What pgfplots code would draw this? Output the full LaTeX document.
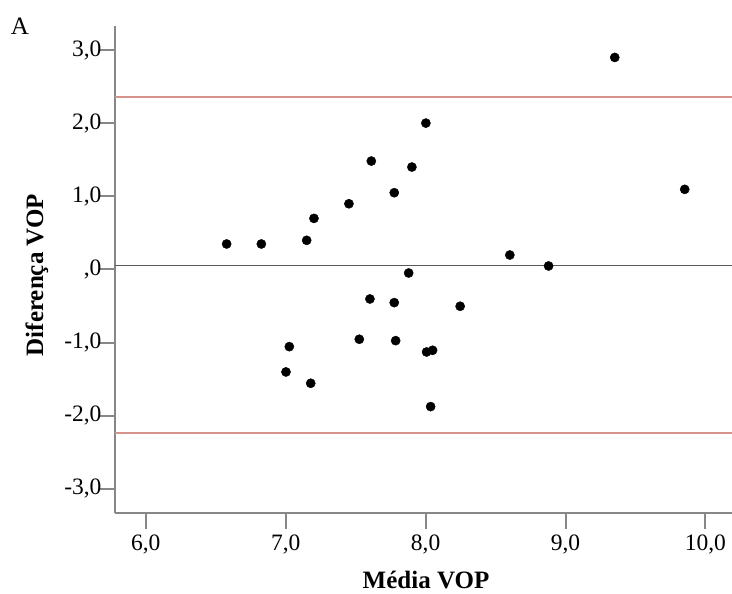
\documentclass[border=0pt]{standalone}
\usepackage{pgfplots}
\pgfplotsset{compat=1.18}
\usepackage{fontspec}
\setmainfont{Liberation Serif}

\definecolor{axisgray}{HTML}{878787}
\definecolor{meangray}{HTML}{5A5A5A}
\definecolor{limitred}{HTML}{D6928C}

\begin{document}
\begin{tikzpicture}[x=1pt,y=1pt]
\useasboundingbox (0,0) rectangle (732,594);
\begin{axis}[
  at={(115pt,81pt)}, anchor=south west,
  scale only axis, width=617pt, height=487pt,
  xmin=5.78, xmax=10.19, ymin=-3.33, ymax=3.33,
  axis x line=bottom, axis y line=left,
  axis line style={-, draw=axisgray, line width=2pt},
  xtick={6,7,8,9,10},
  xticklabels={{6,0},{7,0},{8,0},{9,0},{10,0}},
  ytick={-3,-2,-1,0,1,2,3},
  yticklabels={{-3,0},{-2,0},{-1,0},{,0},{1,0},{2,0},{3,0}},
  tick align=outside, major tick length=16pt,
  tick style={draw=axisgray, line width=2pt},
  tick label style={font=\fontsize{23.5}{23.5}\selectfont},
  xticklabel style={yshift=-2pt},
  yticklabel style={xshift=6pt},
  clip=false,
]
% limits of agreement and mean difference
\addplot[limitred, line width=1.7pt] coordinates {(5.78,2.36) (10.19,2.36)};
\addplot[limitred, line width=1.7pt] coordinates {(5.78,-2.24) (10.19,-2.24)};
\addplot[meangray, line width=1.7pt] coordinates {(5.78,0.055) (10.19,0.055)};
% paired measurements: mean vs difference
\addplot[only marks, mark=*, mark size=4.6pt, mark options={fill=black, draw=black}] table {
x y
6.578 0.349
6.826 0.349
7.150 0.399
7.202 0.699
7.452 0.899
7.612 1.483
7.776 1.050
8.002 2.002
7.902 1.401
8.602 0.198
8.879 0.048
7.879 -0.048
7.602 -0.403
7.776 -0.453
7.526 -0.954
7.786 -0.973
7.026 -1.055
7.002 -1.401
7.179 -1.556
8.247 -0.503
8.007 -1.128
8.050 -1.105
8.036 -1.875
9.352 2.900
9.852 1.096
};
\end{axis}
\node[font=\fontsize{25}{25}\selectfont\bfseries, anchor=base] at (426,5) {Média VOP};
\node[font=\fontsize{25}{25}\selectfont\bfseries, rotate=90, anchor=base] at (43,319) {Diferença VOP};
\node[font=\fontsize{25}{25}\selectfont] at (20,568) {A};
\end{tikzpicture}
\end{document}
